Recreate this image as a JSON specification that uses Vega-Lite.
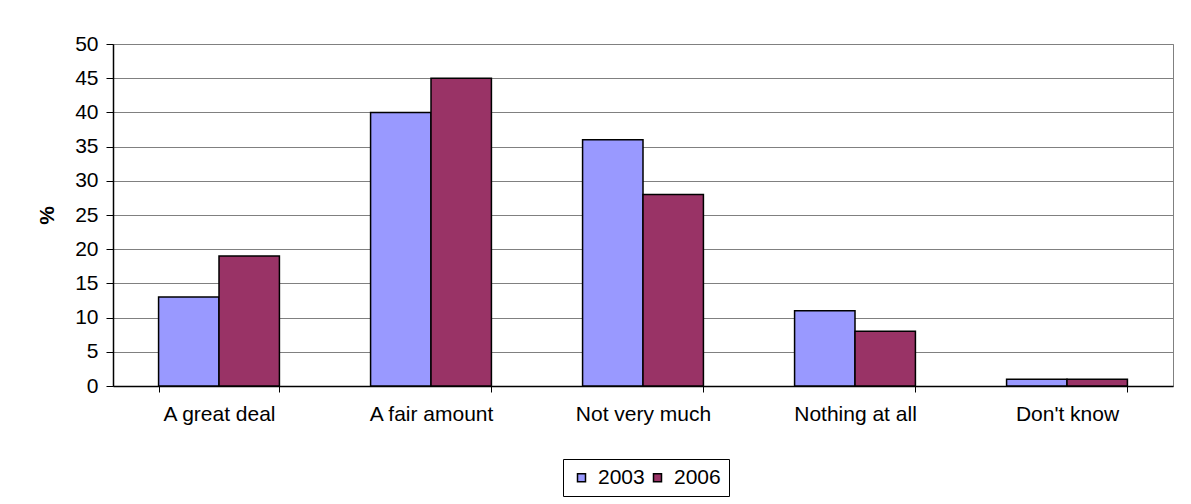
{
  "$schema": "https://vega.github.io/schema/vega-lite/v6.json",
  "width": 1060,
  "height": 342,
  "autosize": {"type": "none"},
  "padding": {"left": 113, "top": 44, "right": 18, "bottom": 118},
  "background": "white",
  "data": {
    "values": [
      {"answer": "A great deal", "year": "2003", "pct": 13},
      {"answer": "A great deal", "year": "2006", "pct": 19},
      {"answer": "A fair amount", "year": "2003", "pct": 40},
      {"answer": "A fair amount", "year": "2006", "pct": 45},
      {"answer": "Not very much", "year": "2003", "pct": 36},
      {"answer": "Not very much", "year": "2006", "pct": 28},
      {"answer": "Nothing at all", "year": "2003", "pct": 11},
      {"answer": "Nothing at all", "year": "2006", "pct": 8},
      {"answer": "Don't know", "year": "2003", "pct": 1},
      {"answer": "Don't know", "year": "2006", "pct": 1}
    ]
  },
  "mark": {"type": "bar", "stroke": "black", "strokeWidth": 1.5},
  "encoding": {
    "x": {
      "field": "answer",
      "type": "nominal",
      "sort": null,
      "title": null,
      "scale": {"paddingInner": 0.43, "paddingOuter": 0.215},
      "axis": {
        "labelAngle": 0,
        "tickBand": "extent",
        "tickSize": 6,
        "tickColor": "black",
        "domainColor": "black",
        "domainWidth": 1.5,
        "labelPadding": 11,
        "labelFontSize": 21,
        "labelFont": "Liberation Sans",
        "labelColor": "black"
      }
    },
    "xOffset": {
      "field": "year",
      "type": "nominal",
      "scale": {"paddingInner": 0, "paddingOuter": 0}
    },
    "y": {
      "field": "pct",
      "type": "quantitative",
      "title": "%",
      "scale": {"domain": [0, 50], "nice": false},
      "axis": {
        "values": [0, 5, 10, 15, 20, 25, 30, 35, 40, 45, 50],
        "tickSize": 7,
        "tickColor": "black",
        "domainColor": "black",
        "domainWidth": 1.5,
        "labelPadding": 8,
        "labelFontSize": 21,
        "labelFont": "Liberation Sans",
        "labelColor": "black",
        "grid": true,
        "gridColor": "#808080",
        "gridWidth": 1,
        "titleFont": "Liberation Sans",
        "titleFontSize": 21,
        "titleFontWeight": "bold",
        "titleColor": "black",
        "titlePadding": 17
      }
    },
    "color": {
      "field": "year",
      "type": "nominal",
      "title": null,
      "scale": {"domain": ["2003", "2006"], "range": ["#9999FF", "#993366"]},
      "legend": {
        "orient": "none",
        "direction": "horizontal",
        "legendX": 450,
        "legendY": 415,
        "strokeColor": "black",
        "padding": 8,
        "symbolType": "square",
        "symbolSize": 64,
        "symbolStrokeColor": "black",
        "symbolStrokeWidth": 1.5,
        "symbolOpacity": 1,
        "labelFont": "Liberation Sans",
        "labelFontSize": 21,
        "labelColor": "black",
        "labelOffset": 6,
        "columnPadding": 2
      }
    }
  },
  "config": {
    "view": {"stroke": "#808080", "strokeWidth": 1}
  }
}
